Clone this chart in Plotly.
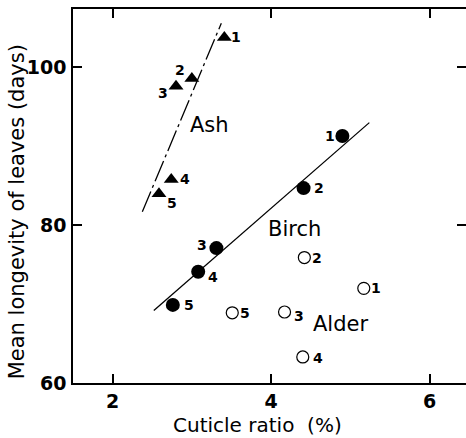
import plotly.graph_objects as go

# ---- data ----
point_ids = ["1", "2", "3", "4", "5"]

ash_x = [3.41, 3.00, 2.80, 2.74, 2.585]
ash_y = [103.8, 98.6, 97.6, 85.8, 84.0]

birch_x = [4.90, 4.41, 3.31, 3.08, 2.76]
birch_y = [91.3, 84.7, 77.1, 74.1, 69.9]

alder_x = [5.17, 4.42, 4.17, 4.40, 3.51]
alder_y = [72.0, 75.9, 69.0, 63.3, 68.9]

ash_fit_x = [2.375, 3.372]
ash_fit_y = [81.7, 105.6]

birch_fit_x = [2.52, 5.24]
birch_fit_y = [69.2, 93.0]

species_labels = ["Ash", "Birch", "Alder"]
species_label_x = [3.22, 4.30, 4.87]
species_label_y = [92.7, 79.5, 67.5]

x_ticks = [2, 4, 6]
y_ticks = [60, 80, 100]

x_title = "Cuticle ratio  (%)"
y_title = "Mean longevity of leaves (days)"

# ---- styling: label offsets in pixels (dx, dy with dy positive = up) ----
ash_off = [(12, 0), (-12, 8), (-13, -7), (14, 0), (13, -9)]
birch_off = [(-12, 0), (15, 0), (-14, 3), (15, -5), (16, 0)]
alder_off = [(12, 0), (13, 0), (14, -4), (15, -1), (13, 0)]

fig = go.Figure()

fig.add_trace(go.Scatter(x=ash_fit_x, y=ash_fit_y, mode="lines",
                         line=dict(color="black", width=1.3, dash="22px,4px,3px,4px"),
                         hoverinfo="skip"))
fig.add_trace(go.Scatter(x=birch_fit_x, y=birch_fit_y, mode="lines",
                         line=dict(color="black", width=1.3), hoverinfo="skip"))

fig.add_trace(go.Scatter(x=ash_x, y=ash_y, mode="markers",
                         marker=dict(symbol="triangle-up", size=13, color="black")))
fig.add_trace(go.Scatter(x=birch_x, y=birch_y, mode="markers",
                         marker=dict(symbol="circle", size=14, color="black")))
fig.add_trace(go.Scatter(x=alder_x, y=alder_y, mode="markers",
                         marker=dict(symbol="circle-open", size=12, color="black",
                                     line=dict(width=1.2, color="black"))))

# invisible trace on the mirrored right axis
fig.add_trace(go.Scatter(x=[ash_x[0]], y=[ash_y[0]], yaxis="y2", mode="markers",
                         marker=dict(opacity=0), hoverinfo="skip"))

annotations = []
num_font = dict(family="DejaVu Sans", size=14, color="black")
for xs, ys, offs in [(ash_x, ash_y, ash_off), (birch_x, birch_y, birch_off),
                     (alder_x, alder_y, alder_off)]:
    for pid, xv, yv, (dx, dy) in zip(point_ids, xs, ys, offs):
        annotations.append(dict(x=xv, y=yv, text="<b>%s</b>" % pid, showarrow=False,
                                xshift=dx, yshift=dy, font=num_font,
                                xanchor="center", yanchor="middle"))

for lab, xv, yv in zip(species_labels, species_label_x, species_label_y):
    annotations.append(dict(x=xv, y=yv, text=lab, showarrow=False,
                            font=dict(family="DejaVu Sans", size=21, color="black"),
                            xanchor="center", yanchor="middle"))

annotations.append(dict(xref="paper", yref="paper", x=0.47, y=-0.113, text=x_title,
                        showarrow=False, xanchor="center", yanchor="middle",
                        font=dict(family="DejaVu Sans", size=20, color="black")))
annotations.append(dict(xref="paper", yref="paper", x=-0.1425, y=0.459, text=y_title,
                        showarrow=False, textangle=-90, xanchor="center", yanchor="middle",
                        font=dict(family="DejaVu Sans", size=21, color="black")))

tick_font = dict(family="DejaVu Sans", size=19, color="black")

fig.update_layout(
    width=466, height=438,
    margin=dict(l=73, r=0, t=9, b=55),
    plot_bgcolor="white", paper_bgcolor="white",
    showlegend=False,
    annotations=annotations,
    xaxis=dict(range=[1.5, 6.46], tickvals=x_ticks,
               ticktext=["<b>%d</b>" % v for v in x_ticks], automargin=False,
               showline=True, linecolor="black", linewidth=1.5, mirror="ticks",
               ticks="inside", ticklen=9, tickwidth=1.5, tickcolor="black",
               showgrid=False, zeroline=False, tickfont=tick_font),
    yaxis=dict(range=[60, 107.4], tickvals=y_ticks,
               ticktext=["<b>%d</b>" % v for v in y_ticks], automargin=False,
               showline=True, linecolor="black", linewidth=1.5,
               ticks="inside", ticklen=9, tickwidth=1.5, tickcolor="black",
               ticklabelstandoff=1,
               showgrid=False, zeroline=False, tickfont=tick_font),
    yaxis2=dict(overlaying="y", side="right", matches="y", range=[60, 107.4],
                tickvals=[80, 100], showticklabels=False, showline=False, automargin=False,
                ticks="inside", ticklen=9, tickwidth=1.5, tickcolor="black",
                showgrid=False, zeroline=False),
)

fig.write_html("out.html", config={"displayModeBar": False},
               post_script="document.body.style.margin='0';")
